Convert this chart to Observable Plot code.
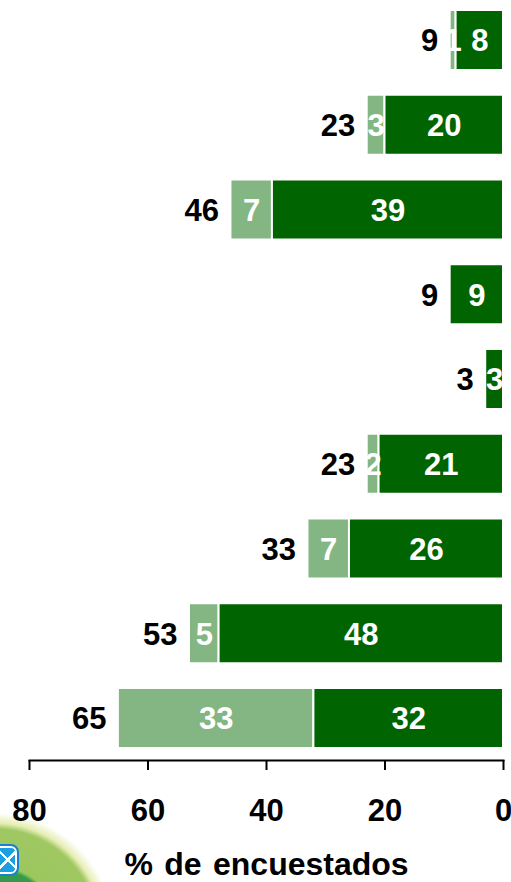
<!DOCTYPE html>
<html>
<head>
<meta charset="utf-8">
<script src="https://cdn.jsdelivr.net/npm/d3@7"></script>
<script src="https://cdn.jsdelivr.net/npm/@observablehq/plot@0.6"></script>
<style>
html,body{margin:0;padding:0;background:#fff;width:511px;height:882px;overflow:hidden}
#wrap{position:relative;width:511px;height:882px;overflow:hidden}
#blob{position:absolute;left:-125px;top:812px;width:240px;height:240px;border-radius:50%;
background:radial-gradient(circle at 50% 50%,#2f9a47 0,#349c49 62px,#9cc75f 66px,#9fc862 103px,#e6eeb4 109px,#fff 119px)}
#badge{position:absolute;left:-14px;top:846px;width:27px;height:24px;border:2px solid #fff;outline:2px solid #1583cf;border-radius:6px;
background:
 linear-gradient(45deg,transparent 47%,#fff 47%,#fff 55%,transparent 55%) 11px 1px/18px 22px no-repeat,
 linear-gradient(-45deg,transparent 47%,#fff 47%,#fff 55%,transparent 55%) 11px 1px/18px 22px no-repeat,
 #1b9fe0}
#chart{position:absolute;left:0;top:0}
#chart svg{background:transparent;display:block;word-spacing:2.5px}
</style>
</head>
<body>
<div id="wrap">
<div id="blob"></div>
<div id="badge"></div>
<div id="chart"></div>
</div>
<script>
const rows = ["a","b","c","d","e","f","g","h","i"];
const dark = [8,20,39,9,3,21,26,48,32];
const light = [1,3,7,0,0,2,7,5,33];
const totals = [9,23,46,9,3,23,33,53,65];
const ticks = [80,60,40,20,0];
const axisLabel = ["% de encuestados"];
const font = '"Liberation Sans",Arial,sans-serif';

const table = rows.map((r,i)=>({r,dark:dark[i],light:light[i],total:totals[i]}));

const chart = Plot.plot({
  width:511,height:882,
  marginLeft:29,marginRight:8,marginTop:0,marginBottom:122,
  style:{fontFamily:font,background:"transparent"},
  x:{domain:[80,0],ticks},
  y:{domain:rows,range:[-14.75,772.75],padding:0.292,round:false,axis:null},
  marks:[
    Plot.barX(table.filter(d=>d.light>0),{x1:"dark",x2:"total",y:"r",fill:"#84b683",stroke:"#fff",strokeWidth:2}),
    Plot.barX(table,{x1:0,x2:"dark",y:"r",fill:"#006400",stroke:"#fff",strokeWidth:2}),
    Plot.text(table,{x:d=>d.dark/2,y:"r",text:"dark",fill:"#fff",fontSize:31,fontWeight:700,dy:1}),
    Plot.text(table.filter(d=>d.light>0),{x:d=>d.dark+d.light/2,y:"r",text:"light",fill:"#fff",fontSize:31,fontWeight:700,dy:1}),
    Plot.text(table,{x:"total",y:"r",text:"total",fill:"#000",fontSize:31,fontWeight:700,textAnchor:"end",dx:-12,dy:1}),
    Plot.frame({anchor:"bottom",stroke:"#000",strokeWidth:2,strokeOpacity:1}),
    Plot.axisX({ticks,anchor:"bottom",tickSize:10,tickPadding:28,fontSize:31,fontWeight:700,stroke:"#000",strokeWidth:2,fill:"#000",label:null}),
    Plot.text(axisLabel,{frameAnchor:"bottom",text:d=>d,dy:104.5,dx:0,fontSize:32,fontWeight:700,fill:"#000",lineAnchor:"middle"})
  ]
});
document.getElementById("chart").appendChild(chart);
</script>
</body>
</html>
